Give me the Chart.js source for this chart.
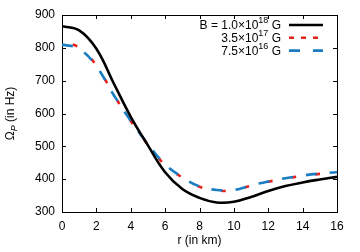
<!DOCTYPE html>
<html>
<head>
<meta charset="utf-8">
<script src="https://cdn.jsdelivr.net/npm/chart.js@4"></script>
<style>
	html, body { margin: 0; padding: 0; background: #fff; }
	#wrap { width: 360px; height: 252px; }
</style>
</head>
<body>
<div id="wrap"><canvas id="chart" width="360" height="252"></canvas></div>
<script>
// radius in km
const radius = [0, 1, 2, 3, 4, 5, 6, 7, 8, 9, 10, 11, 12, 13, 14, 15, 16];
// Omega_P (Hz) for each field strength
const field18 = [866, 853, 797, 693, 590, 503, 421, 370, 343, 329, 331, 346, 364, 379, 390, 399, 407];
const field17 = [818, 801, 746, 658, 577, 505, 443, 405, 377, 366, 366, 380, 392, 402, 410, 416, 420];
const field16 = [810, 797, 744, 657, 578, 507, 445, 406, 378, 367, 367, 381, 393, 403, 411, 417, 421];

const xTicks = [0, 2, 4, 6, 8, 10, 12, 14, 16];
const yTicks = [300, 400, 500, 600, 700, 800, 900];

const legendRows = [
	{ parts: [{ t: "B = 1.0×10" }, { t: "18", sup: true }, { t: " G" }], color: "#000", dash: [] },
	{ parts: [{ t: "3.5×10" }, { t: "17", sup: true }, { t: " G" }], color: "#e8231b", dash: [5, 7] },
	{ parts: [{ t: "7.5×10" }, { t: "16", sup: true }, { t: " G" }], color: "#1a7cc1", dash: [11, 13] },
];

const FONT = "'Liberation Sans', Arial, sans-serif";

function fontFor(p) {
	return (p.italic ? "italic " : "") + (p.sup || p.sub ? "9px " : "12px ") + FONT;
}

function drawRich(ctx, parts, x, y, align) {
	const widths = parts.map(p => {
		ctx.font = fontFor(p);
		return ctx.measureText(p.t).width;
	});
	const total = widths.reduce((a, b) => a + b, 0);
	let cx = align == "right" ? x - total : align == "center" ? x - total / 2 : x;
	parts.forEach((p, i) => {
		ctx.font = fontFor(p);
		let dy = p.sup ? -5 : p.sub ? 3 : 0;
		ctx.fillText(p.t, cx, y + dy);
		cx += widths[i];
	});
}

const framePlugin = {
	id: "frame",
	beforeDatasetsDraw(chart) {
		const { ctx, chartArea: a, scales: { x, y } } = chart;
		ctx.save();
		ctx.strokeStyle = "#000";
		ctx.lineWidth = 1;
		ctx.beginPath();
		xTicks.forEach(v => {
			const px = Math.round(x.getPixelForValue(v)) + 0.5;
			ctx.moveTo(px, a.bottom); ctx.lineTo(px, a.bottom - 4);
			ctx.moveTo(px, a.top); ctx.lineTo(px, a.top + 4);
		});
		yTicks.forEach(v => {
			const py = Math.round(y.getPixelForValue(v)) + 0.5;
			ctx.moveTo(a.left, py); ctx.lineTo(a.left + 4, py);
			ctx.moveTo(a.right, py); ctx.lineTo(a.right - 4, py);
		});
		ctx.stroke();
		ctx.strokeRect(Math.round(a.left) + 0.5, Math.round(a.top) + 0.5, Math.round(a.right - a.left), Math.round(a.bottom - a.top));

		// axis titles
		ctx.fillStyle = "#000";
		ctx.textBaseline = "middle";
		drawRich(ctx, [{ t: "r (in km)" }], (a.left + a.right) / 2, 241, "center");
		ctx.translate(11, (a.top + a.bottom) / 2);
		ctx.rotate(-Math.PI / 2);
		drawRich(ctx, [{ t: "Ω" }, { t: "P", sub: true, italic: true }, { t: " (in Hz)" }], 0, 0, "center");
		ctx.restore();
	},
	afterDraw(chart) {
		const { ctx } = chart;
		ctx.save();
		ctx.fillStyle = "#000";
		ctx.textBaseline = "middle";
		legendRows.forEach((row, i) => {
			const ly = 25 + i * 12.8;
			drawRich(ctx, row.parts, 281, ly + 1, "right");
			ctx.strokeStyle = row.color;
			ctx.lineWidth = 2.6;
			ctx.setLineDash(row.dash);
			ctx.beginPath();
			ctx.moveTo(289, ly);
			ctx.lineTo(323, ly);
			ctx.stroke();
		});
		ctx.restore();
	}
};

const toPoints = arr => arr.map((v, i) => ({ x: radius[i], y: v }));

new Chart(document.getElementById("chart"), {
	type: "line",
	data: {
		datasets: [
			{ data: toPoints(field18), borderColor: "#000", borderWidth: 2.6, pointRadius: 0, tension: 0.4 },
			{ data: toPoints(field16), borderColor: legendRows[2].color, borderWidth: 2.6, borderDash: legendRows[2].dash, pointRadius: 0, tension: 0.4 },
			{ data: toPoints(field17), borderColor: legendRows[1].color, borderWidth: 2.6, borderDash: [5, 19], borderDashOffset: 13, pointRadius: 0, tension: 0.4 },
		]
	},
	options: {
		responsive: false,
		animation: false,
		layout: { padding: { top: 15, right: 23, left: 0, bottom: 0 } },
		plugins: { legend: { display: false }, tooltip: { enabled: false } },
		scales: {
			x: {
				type: "linear", min: 0, max: 16,
				grid: { display: false, drawTicks: false },
				border: { display: false },
				afterBuildTicks: s => { s.ticks = xTicks.map(v => ({ value: v })); },
				afterFit: s => { s.height = 40; },
				ticks: { padding: 7, color: "#000", font: { family: FONT, size: 12 }, maxRotation: 0 }
			},
			y: {
				type: "linear", min: 300, max: 900,
				grid: { display: false, drawTicks: false },
				border: { display: false },
				afterBuildTicks: s => { s.ticks = yTicks.map(v => ({ value: v })); },
				afterFit: s => { s.width = 62; },
				ticks: { padding: 7, color: "#000", font: { family: FONT, size: 12 } }
			}
		}
	},
	plugins: [framePlugin]
});
</script>
</body>
</html>
